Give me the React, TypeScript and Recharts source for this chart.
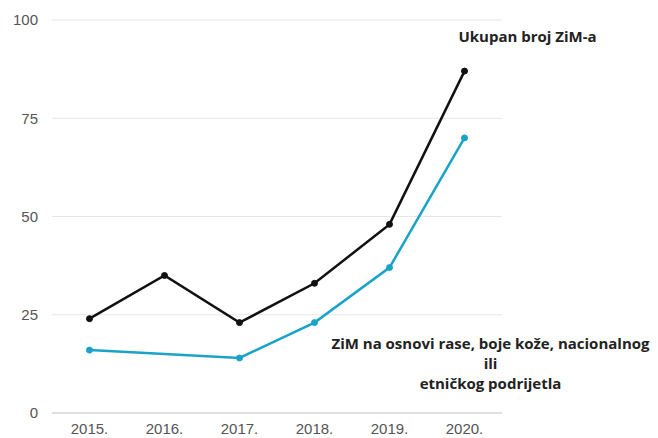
import { LineChart, Line, XAxis, YAxis, CartesianGrid, LabelList } from 'recharts';

const YEARS = ['2015.', '2016.', '2017.', '2018.', '2019.', '2020.'];
const TOTAL = [24, 35, 23, 33, 48, 87];
const RACE = [16, null, 14, 23, 37, 70];
const Y_TICKS = [0, 25, 50, 75, 100];

const data = YEARS.map((year, i) => ({ year, total: TOTAL[i], race: RACE[i] }));

const labelFont = { fontFamily: '"Open Sans", sans-serif', fontWeight: 700, fontSize: 15, fill: '#222' };

const totalLabel = (props: any) => {
  const { x, y, index } = props;
  if (index !== YEARS.length - 1) return null;
  return (
    <text x={x + 63} y={y - 29} textAnchor="middle" {...labelFont}>
      Ukupan broj ZiM-a
    </text>
  );
};

const raceLabel = (props: any) => {
  const { x, y, index } = props;
  if (index !== YEARS.length - 1) return null;
  const cx = x + 26;
  return (
    <text textAnchor="middle" {...labelFont}>
      <tspan x={cx} y={y + 211}>ZiM na osnovi rase, boje kože, nacionalnog</tspan>
      <tspan x={cx} y={y + 231}>ili</tspan>
      <tspan x={cx} y={y + 251}>etničkog podrijetla</tspan>
    </text>
  );
};

export default function App() {
  return (
    <div style={{ position: 'absolute', left: 0, top: 0, width: 658, height: 438, background: '#fff' }}>
      <LineChart width={658} height={438} data={data} margin={{ top: 20, right: 156, left: 0, bottom: 0 }}>
        <CartesianGrid vertical={false} stroke="#e6e6e6" />
        <XAxis
          dataKey="year"
          height={25}
          padding={{ left: 37.5, right: 37.5 }}
          tickLine={false}
          axisLine={{ stroke: '#c8c8c8' }}
          tickMargin={4}
          tick={{ fontFamily: '"Liberation Sans", Arial, sans-serif', fontSize: 15, fill: '#555' }}
          interval={0}
        />
        <YAxis
          width={52}
          domain={[0, 100]}
          ticks={Y_TICKS}
          tickLine={false}
          axisLine={false}
          tickMargin={8}
          tick={{ fontFamily: '"Liberation Sans", Arial, sans-serif', fontSize: 15, fill: '#555' }}
        />
        <Line
          dataKey="total"
          stroke="#111"
          strokeWidth={2.5}
          dot={{ r: 3, fill: '#111', stroke: '#111', strokeWidth: 1 }}
          isAnimationActive={false}
        >
          <LabelList dataKey="total" content={totalLabel} />
        </Line>
        <Line
          dataKey="race"
          stroke="#1aa3c8"
          strokeWidth={2.5}
          connectNulls
          dot={{ r: 3, fill: '#1aa3c8', stroke: '#1aa3c8', strokeWidth: 1 }}
          isAnimationActive={false}
        >
          <LabelList dataKey="race" content={raceLabel} />
        </Line>
      </LineChart>
    </div>
  );
}
